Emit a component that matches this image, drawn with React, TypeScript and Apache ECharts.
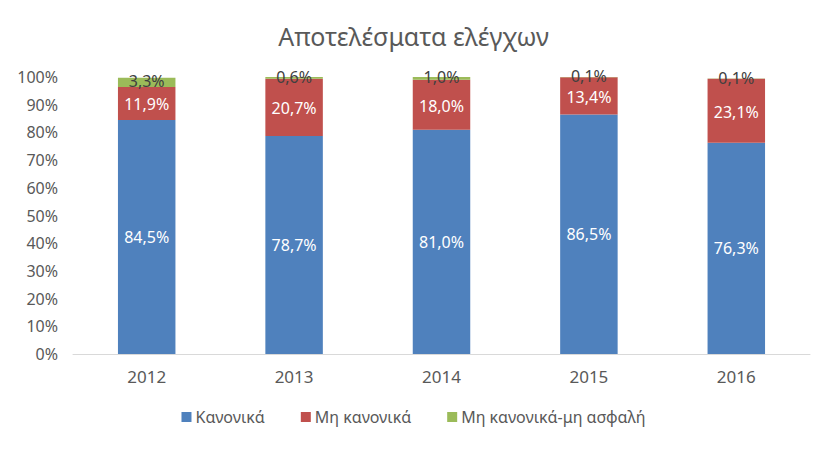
import React, { useEffect, useRef } from "react";
import * as echarts from "echarts";

const categories = ["2012", "2013", "2014", "2015", "2016"];
const kanonika = [84.5, 78.7, 81.0, 86.5, 76.3];
const miKanonika = [11.9, 20.7, 18.0, 13.4, 23.1];
const miKanonikaMiAsfali = [3.3, 0.6, 1.0, 0.1, 0.1];
const yTicks = [0, 10, 20, 30, 40, 50, 60, 70, 80, 90, 100];

const FONT = "'Noto Sans', 'Open Sans', sans-serif";

const fmt = (v: number) => v.toFixed(1).replace(".", ",") + "%";

export default function App() {
  const ref = useRef<HTMLDivElement>(null);
  useEffect(() => {
    if (!ref.current) return;
    const chart = echarts.init(ref.current, undefined, { renderer: "svg" });
    const mkSeries = (
      name: string,
      data: number[],
      color: string,
      labelColor: string,
      offsetY: number
    ) => ({
      name,
      type: "bar",
      stack: "total",
      data,
      barWidth: "39%",
      itemStyle: { color },
      label: {
        show: true,
        position: "inside",
        color: labelColor,
        fontSize: 16,
        lineHeight: 16,
        offset: [0, offsetY],
        fontFamily: FONT,
        formatter: (p: any) => fmt(p.value),
      },
    });
    chart.setOption({
      animation: false,
      textStyle: { fontFamily: FONT },
      title: {
        text: "Αποτελέσματα ελέγχων",
        left: "center",
        top: 18,
        textStyle: { fontSize: 25, fontWeight: "normal", color: "#595959", fontFamily: FONT },
      },
      legend: {
        bottom: 20,
        left: "center",
        itemWidth: 10,
        itemHeight: 10,
        itemGap: 36,
        icon: "rect",
        textStyle: { fontSize: 16, color: "#595959", fontFamily: FONT, padding: [0, 0, 0, -1] },
        data: ["Κανονικά", "Μη κανονικά", "Μη κανονικά-μη ασφαλή"],
      },
      grid: { left: 73, right: 17, top: 77, bottom: 96, containLabel: false },
      xAxis: {
        type: "category",
        data: categories,
        axisLine: { lineStyle: { color: "#D9D9D9", width: 1 } },
        axisTick: { show: false },
        axisLabel: { fontSize: 17, color: "#595959", margin: 14, fontFamily: FONT },
      },
      yAxis: {
        type: "value",
        min: 0,
        max: 100,
        interval: 10,
        splitLine: { show: false },
        axisLine: { show: false },
        axisTick: { show: false },
        axisLabel: {
          fontSize: 16,
          color: "#595959",
          margin: 15,
          fontFamily: FONT,
          formatter: (v: number) => (yTicks.includes(v) ? v + "%" : ""),
        },
      },
      series: [
        mkSeries("Κανονικά", kanonika, "#4F81BD", "#FFFFFF", 0),
        mkSeries("Μη κανονικά", miKanonika, "#C0504D", "#FFFFFF", 1),
        mkSeries("Μη κανονικά-μη ασφαλή", miKanonikaMiAsfali, "#9BBB59", "#404040", -1),
      ],
    });
    return () => chart.dispose();
  }, []);
  return <div ref={ref} style={{ width: 827, height: 450, margin: -8 }} />;
}
